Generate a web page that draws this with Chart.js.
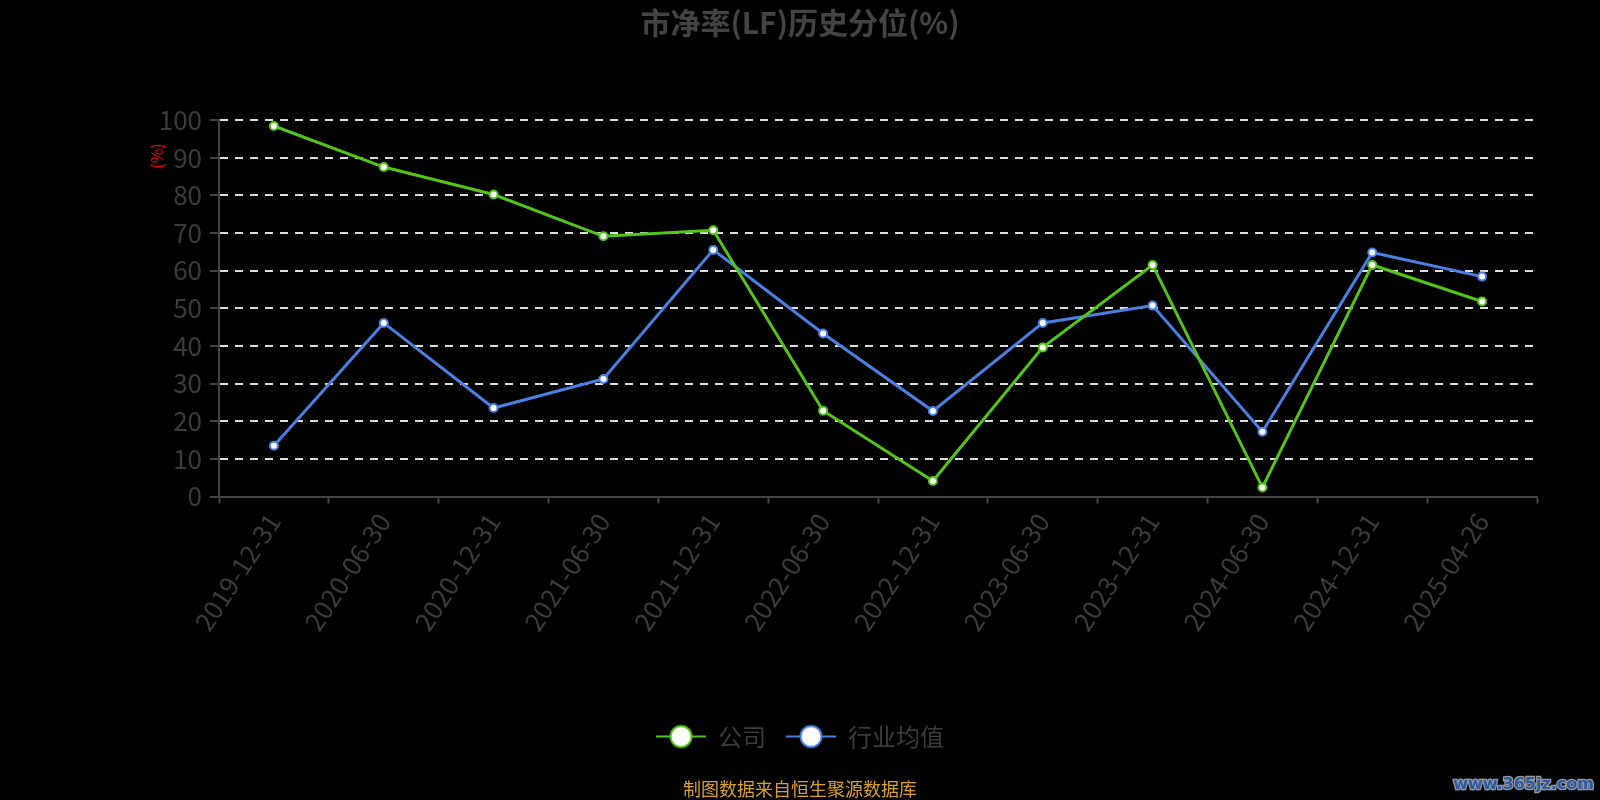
<!DOCTYPE html>
<html>
<head>
<meta charset="utf-8">
<script src="https://cdn.jsdelivr.net/npm/chart.js@4.4.0/dist/chart.umd.min.js"></script>
<style>
  html, body { margin: 0; padding: 0; background: #000; }
  canvas { display: block; }
</style>
</head>
<body>
<canvas id="pbChart" width="1600" height="800"></canvas>
<script>
// data grafik
const categories = ['2019-12-31', '2020-06-30', '2020-12-31', '2021-06-30', '2021-12-31', '2022-06-30',
    '2022-12-31', '2023-06-30', '2023-12-31', '2024-06-30', '2024-12-31', '2025-04-26'];
const companyValues = [98.4, 87.5, 80.2, 69.1, 70.7, 22.8, 4.1, 39.6, 61.5, 2.4, 61.5, 51.8];
const industryValues = [13.5, 46.1, 23.5, 31.2, 65.5, 43.3, 22.7, 46.1, 50.7, 17.2, 64.8, 58.4];
const seriesNames = ['公司', '行业均值'];
const yTicks = { min: 0, max: 100, step: 10 };

const FONT = "'Noto Sans CJK SC', 'Noto Sans', sans-serif";
const GREEN = '#52c41a';
const BLUE = '#4a80e2';
const GREY = '#444444';
const LABEL = '#3c3c3c';

// ikon legenda: garis + lingkaran
function legendIcon(color) {
    const c = document.createElement('canvas');
    c.width = 50;
    c.height = 26;
    const g = c.getContext('2d');
    g.strokeStyle = color;
    g.lineWidth = 2;
    g.beginPath();
    g.moveTo(0, 13);
    g.lineTo(50, 13);
    g.stroke();
    g.beginPath();
    g.arc(25, 13, 10.5, 0, Math.PI * 2);
    g.fillStyle = '#fff';
    g.fill();
    g.stroke();
    return c;
}
const icons = [legendIcon(GREEN), legendIcon(BLUE)];

// teks tambahan: judul sumbu y, sumber data, watermark
const extrasPlugin = {
    id: 'extras',
    afterDraw(chart) {
        const ctx = chart.ctx;
        ctx.save();
        ctx.translate(157, 156);
        ctx.rotate(-Math.PI / 2);
        ctx.fillStyle = '#ff0000';
        ctx.font = '16px ' + FONT;
        ctx.textAlign = 'center';
        ctx.textBaseline = 'middle';
        ctx.fillText('(%)', 0, 0);
        ctx.restore();

        ctx.save();
        ctx.fillStyle = '#d9a12b';
        ctx.font = '18px ' + FONT;
        ctx.textAlign = 'center';
        ctx.textBaseline = 'middle';
        ctx.fillText('制图数据来自恒生聚源数据库', 800, 789);

        ctx.font = 'bold 16px "DejaVu Sans", sans-serif';
        ctx.textAlign = 'right';
        ctx.lineWidth = 2.5;
        ctx.strokeStyle = '#9a9a9a';
        ctx.strokeText('www.365jz.com', 1594, 785);
        ctx.fillStyle = '#2b5ba8';
        ctx.fillText('www.365jz.com', 1594, 785);
        ctx.restore();
    }
};

const ctx = document.getElementById('pbChart').getContext('2d');
window.pbChart = new Chart(ctx, {
    type: 'line',
    data: {
        labels: categories,
        datasets: [
            {
                label: seriesNames[0],
                data: companyValues,
                borderColor: GREEN,
                backgroundColor: '#fff',
                borderWidth: 3,
                pointRadius: 4,
                pointBorderWidth: 2,
                pointBackgroundColor: '#fff',
                pointBorderColor: GREEN,
                tension: 0
            },
            {
                label: seriesNames[1],
                data: industryValues,
                borderColor: BLUE,
                backgroundColor: '#fff',
                borderWidth: 3,
                pointRadius: 4,
                pointBorderWidth: 2,
                pointBackgroundColor: '#fff',
                pointBorderColor: BLUE,
                tension: 0
            }
        ]
    },
    options: {
        responsive: false,
        animation: false,
        layout: {
            padding: { left: 63, right: 63, top: 0, bottom: 41.5 }
        },
        scales: {
            x: {
                offset: true,
                afterFit(scale) { scale.height = 208; },
                grid: {
                    drawOnChartArea: false,
                    drawTicks: true,
                    tickLength: 7,
                    tickColor: GREY,
                    tickWidth: 2,
                    offset: true
                },
                border: { color: GREY, width: 2 },
                ticks: {
                    color: LABEL,
                    font: { family: FONT, size: 26 },
                    minRotation: 57,
                    maxRotation: 57,
                    autoSkip: false,
                    padding: 4
                }
            },
            y: {
                min: yTicks.min,
                max: yTicks.max,
                afterFit(scale) { scale.width = 156; },
                grid: {
                    color: (c) => (c.tick && c.tick.value === 0 ? 'rgba(0,0,0,0)' : '#dddddd'),
                    lineWidth: 2,
                    tickColor: GREY,
                    tickWidth: 2,
                    tickLength: 9
                },
                border: { color: GREY, width: 2, dash: [8, 7] },
                ticks: {
                    stepSize: yTicks.step,
                    color: LABEL,
                    font: { family: FONT, size: 26 },
                    padding: 8
                }
            }
        },
        plugins: {
            title: {
                display: true,
                text: '市净率(LF)历史分位(%)',
                color: GREY,
                font: { family: FONT, size: 30, weight: 'bold' },
                padding: { top: 4.5, bottom: 79.5 }
            },
            legend: {
                position: 'bottom',
                labels: {
                    usePointStyle: true,
                    pointStyleWidth: 50,
                    padding: 20,
                    color: LABEL,
                    font: { family: FONT, size: 24 },
                    generateLabels(chart) {
                        const items = Chart.defaults.plugins.legend.labels.generateLabels(chart);
                        items.forEach((item, i) => {
                            item.pointStyle = icons[i];
                            item.fontColor = LABEL;
                        });
                        return items;
                    }
                }
            },
            tooltip: { enabled: false }
        }
    },
    plugins: [extrasPlugin]
});
</script>
</body>
</html>
